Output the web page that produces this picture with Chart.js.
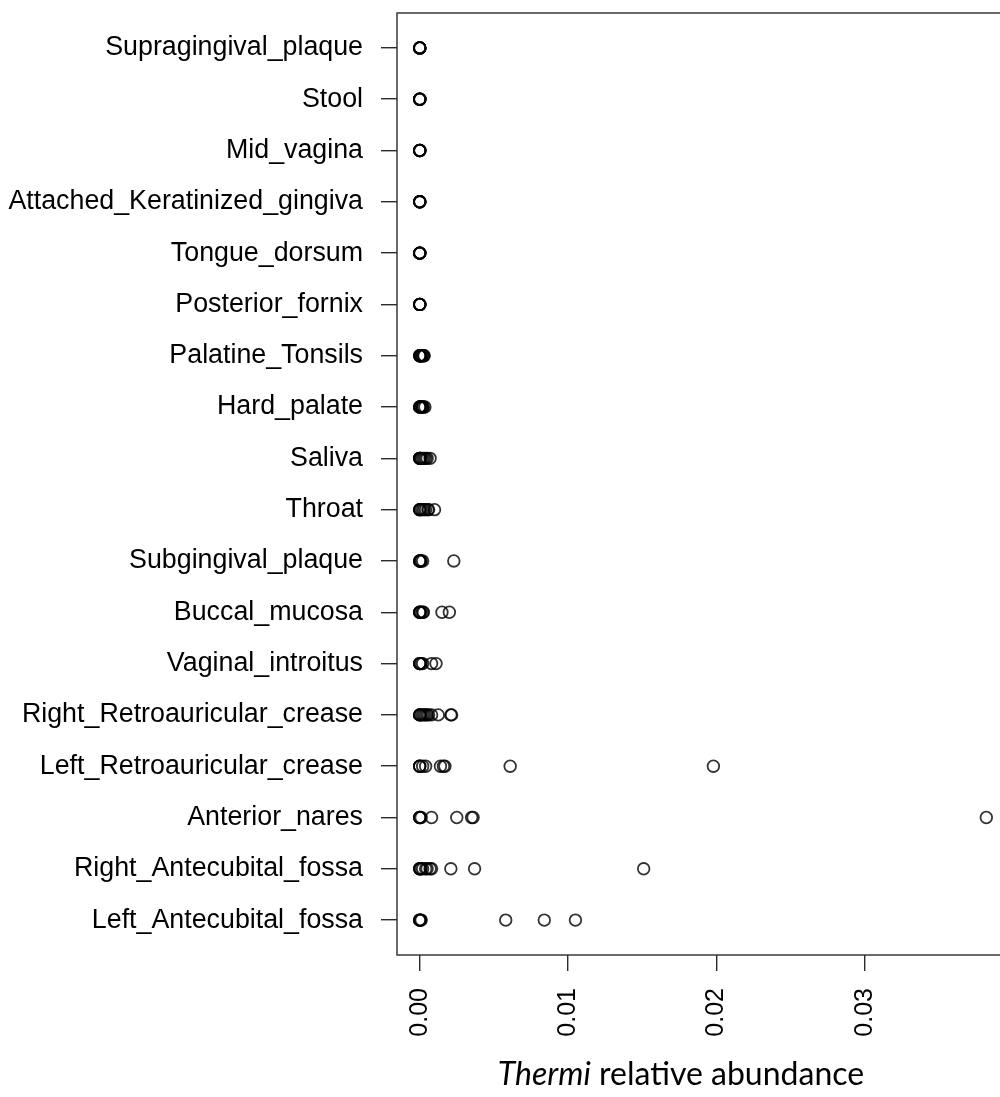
<!DOCTYPE html>
<html>
<head>
<meta charset="utf-8">
<script src="https://cdn.jsdelivr.net/npm/chart.js@4.4.1/dist/chart.umd.min.js"></script>
<style>
  html, body { margin: 0; padding: 0; background: #fff; overflow: hidden; width: 1000px; height: 1097px; }
  #wrap { position: absolute; left: 0; top: 0; width: 1030px; height: 1097px; }
  #xtitle { position: absolute; left: 431px; width: 500px; top: 1053px; text-align: center;
            font-family: Lato, "Open Sans", sans-serif; font-size: 32px; color: #000; white-space: nowrap; }
</style>
</head>
<body>
<div id="wrap"><canvas id="c" width="1030" height="1097"></canvas></div>
<div id="xtitle"><i>Thermi</i> relative abundance</div>
<script>
// Body sites, listed top to bottom
const siteNames = [
  "Supragingival_plaque", "Stool", "Mid_vagina", "Attached_Keratinized_gingiva",
  "Tongue_dorsum", "Posterior_fornix", "Palatine_Tonsils", "Hard_palate", "Saliva",
  "Throat", "Subgingival_plaque", "Buccal_mucosa", "Vaginal_introitus",
  "Right_Retroauricular_crease", "Left_Retroauricular_crease", "Anterior_nares",
  "Right_Antecubital_fossa", "Left_Antecubital_fossa"
];

// Thermi relative abundance per sample, one array per site
const supragingivalPlaque  = [0, 0, 0, 0, 0.00001, 0.00002];
const stool                = [0, 0, 0, 0, 0.00001, 0.00002];
const midVagina            = [0, 0, 0, 0, 0.00001, 0.00002];
const attachedGingiva      = [0, 0, 0, 0, 0.00001, 0.00002];
const tongueDorsum         = [0, 0, 0, 0, 0.00001, 0.00002];
const posteriorFornix      = [0, 0, 0, 0, 0.00001, 0.00002];
const palatineTonsils      = [0, 0, 0, 0.00003, 0.00006, 0.0001, 0.00015, 0.0002, 0.00027, 0.0003];
const hardPalate           = [0, 0, 0, 0.00005, 0.0001, 0.00015, 0.0002, 0.00025, 0.00035];
const saliva               = [0, 0, 0, 0.00005, 0.0001, 0.0002, 0.0003, 0.0004, 0.0005, 0.0007];
const throat               = [0, 0, 0, 0.0001, 0.0002, 0.0003, 0.0004, 0.00055, 0.0006, 0.001];
const subgingivalPlaque    = [0, 0, 0, 0.00005, 0.0001, 0.0002, 0.0023];
const buccalMucosa         = [0, 0, 0, 0.0001, 0.0002, 0.00025, 0.0015, 0.002];
const vaginalIntroitus     = [0, 0, 0, 0.0001, 0.0002, 0.0008, 0.0011];
const rightRetroauricular  = [0, 0, 0, 0.0001, 0.0002, 0.0003, 0.0004, 0.0005, 0.0006, 0.0008, 0.00125, 0.0021, 0.00215];
const leftRetroauricular   = [0, 0, 0, 0.0002, 0.0004, 0.0014, 0.0016, 0.0017, 0.0061, 0.0198];
const anteriorNares        = [0, 0, 0, 0.0001, 0.0008, 0.0025, 0.0035, 0.0036, 0.0382];
const rightAntecubital     = [0, 0, 0, 0.0001, 0.0002, 0.0004, 0.0005, 0.0007, 0.0008, 0.0021, 0.0037, 0.0151];
const leftAntecubital      = [0, 0, 0, 0.00005, 0.0001, 0.0058, 0.0084, 0.0105];

const siteValues = [
  supragingivalPlaque, stool, midVagina, attachedGingiva, tongueDorsum, posteriorFornix,
  palatineTonsils, hardPalate, saliva, throat, subgingivalPlaque, buccalMucosa,
  vaginalIntroitus, rightRetroauricular, leftRetroauricular, anteriorNares,
  rightAntecubital, leftAntecubital
];

// X axis ticks
const xTickValues = [0, 0.01, 0.02, 0.03];
const xTickLabels = ["0.00", "0.01", "0.02", "0.03"];

// Axis ranges: data range padded by 4% at each end
const xMin = -0.00153, xMax = 0.03973;
const yMin = 0.32, yMax = 18.68;

const points = [];
siteValues.forEach((vals, i) => vals.forEach(v => points.push({ x: v, y: i + 1 })));

const frame = {
  id: 'frame',
  afterDraw(chart) {
    const { ctx, chartArea: a } = chart;
    ctx.save();
    ctx.strokeStyle = '#2b2b2b';
    ctx.lineWidth = 1.4;
    ctx.strokeRect(a.left, a.top, a.right - a.left, a.bottom - a.top);
    ctx.restore();
  }
};

new Chart(document.getElementById('c'), {
  type: 'scatter',
  data: {
    datasets: [{
      data: points,
      pointStyle: 'circle',
      pointRadius: 5.8,
      pointHoverRadius: 5.8,
      pointBorderWidth: 1.8,
      borderColor: 'rgba(0,0,0,0.8)',
      backgroundColor: 'rgba(0,0,0,0)'
    }]
  },
  options: {
    responsive: false,
    devicePixelRatio: 1,
    animation: false,
    layout: { padding: { top: 13, right: 21, left: 0, bottom: 0 } },
    plugins: { legend: { display: false }, tooltip: { enabled: false } },
    scales: {
      x: {
        type: 'linear',
        min: xMin, max: xMax,
        afterBuildTicks: s => { s.ticks = xTickValues.map(v => ({ value: v })); },
        afterFit: s => { s.height = 142; s.paddingLeft = 0; s.paddingRight = 0; },
        border: { display: false },
        grid: { drawOnChartArea: false, drawTicks: true, tickLength: 16, tickColor: '#2b2b2b', lineWidth: 1.4 },
        ticks: {
          autoSkip: false, minRotation: 90, maxRotation: 90, padding: 17,
          color: '#000', font: { family: '"Liberation Sans", Arial, sans-serif', size: 25 },
          callback: (v, i) => xTickLabels[i]
        }
      },
      y: {
        type: 'linear',
        reverse: true,
        min: yMin, max: yMax,
        afterBuildTicks: s => { s.ticks = siteNames.map((_, i) => ({ value: i + 1 })); },
        afterFit: s => { s.width = 397; s.paddingTop = 0; s.paddingBottom = 0; },
        border: { display: false },
        grid: { drawOnChartArea: false, drawTicks: true, tickLength: 16, tickColor: '#2b2b2b', lineWidth: 1.4 },
        ticks: {
          autoSkip: false, padding: 18,
          color: '#000', font: { family: '"Liberation Sans", Arial, sans-serif', size: 26.8 },
          callback: (v, i) => siteNames[i]
        }
      }
    }
  },
  plugins: [frame]
});
</script>
</body>
</html>
